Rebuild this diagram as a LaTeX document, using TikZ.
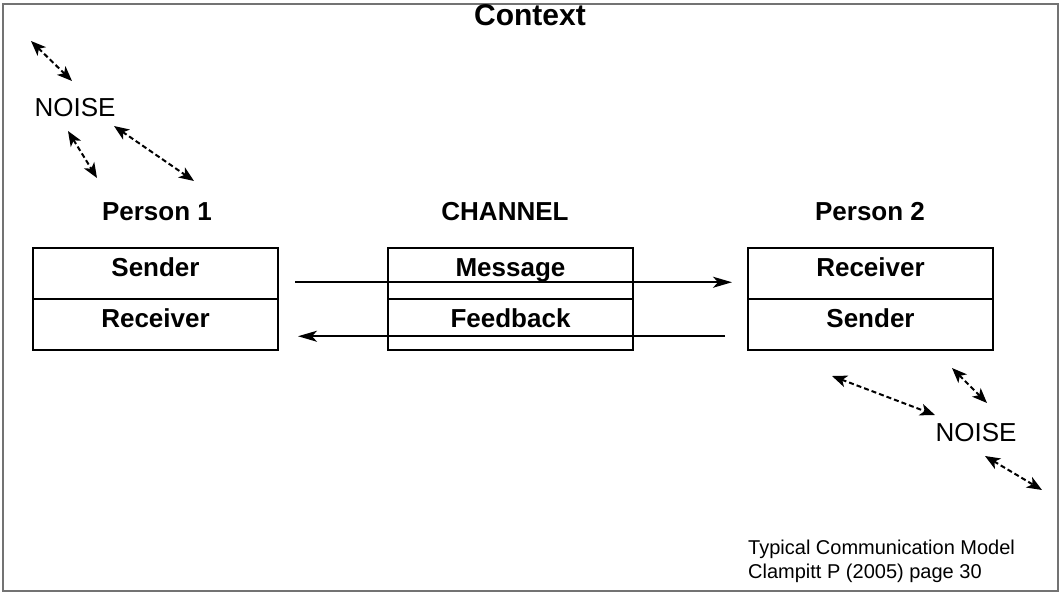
\documentclass[tikz,border=0pt]{standalone}
\usepackage{fontspec}
\setmainfont{Liberation Sans}
\usetikzlibrary{arrows.meta, positioning}

\begin{document}
\begin{tikzpicture}[
    x=1pt, y=-1pt,
    cell/.style={draw, line width=2pt, minimum width=245pt, minimum height=51pt, inner sep=0pt, outer sep=0pt, text height=19pt, text depth=14pt, font=\fontsize{26}{30}\selectfont\bfseries},
    heading/.style={font=\fontsize{26}{30}\selectfont\bfseries},
    noise/.style={font=\fontsize{26}{30}\selectfont},
    flow/.style={-{Stealth[length=19pt, width=11pt, inset=5pt]}, line width=2pt},
    noisearrow/.style={{Stealth[length=15pt, width=12pt, inset=4pt]}-{Stealth[length=15pt, width=12pt, inset=4pt]}, line width=2pt, dash pattern=on 5pt off 3pt}
]
\useasboundingbox (0,0) rectangle (1061,594);

% Frame
\draw[black!55, line width=2pt] (3,4) rectangle (1058,591);
\node (context) [font=\fontsize{30}{34}\selectfont\bfseries] at (530,15) {Context};

% Person 1
\node (p1sender) [cell] at (155.5,273.75) {Sender};
\node (p1receiver) [cell, below=0pt of p1sender] {Receiver};
\node (person1) [heading] at (157,212) {Person 1};

% Channel
\node (chmsg) [cell] at (510.5,273.75) {Message};
\node (chfb) [cell, below=0pt of chmsg] {Feedback};
\node (channel) [heading] at (505,212) {CHANNEL};

% Person 2
\node (p2receiver) [cell] at (870.5,273.75) {Receiver};
\node (p2sender) [cell, below=0pt of p2receiver] {Sender};
\node (person2) [heading] at (870,212) {Person 2};

% Arrows
\draw [flow, shorten <=17pt, shorten >=16pt] ([yshift=-8.5pt]p1sender.east) -- ([yshift=-8.5pt]p2receiver.west);
\draw [flow, shorten <=23pt, shorten >=20pt] ([yshift=-11.5pt]p2sender.west) -- ([yshift=-11.5pt]p1receiver.east);

% Noise (left)
\node (noise1) [noise] at (75,108) {NOISE};
\coordinate (n1a) at (31,41);   \coordinate (n1b) at (72,81);
\coordinate (n1c) at (68,131);  \coordinate (n1d) at (97,178);
\coordinate (n1e) at (114,126); \coordinate (n1f) at (194,181);
\draw [noisearrow] (n1a) -- (n1b);
\draw [noisearrow] (n1c) -- (n1d);
\draw [noisearrow] (n1e) -- (n1f);

% Noise (right)
\node (noise2) [noise] at (976,433) {NOISE};
\coordinate (n2a) at (832,376); \coordinate (n2b) at (935,415);
\coordinate (n2c) at (952,368); \coordinate (n2d) at (987,403);
\coordinate (n2e) at (985,456); \coordinate (n2f) at (1042,490);
\draw [noisearrow] (n2a) -- (n2b);
\draw [noisearrow] (n2c) -- (n2d);
\draw [noisearrow] (n2e) -- (n2f);

% Source
\node (source) [anchor=north west, inner sep=0pt, align=left, font=\fontsize{20}{24}\selectfont] at (748,540) {Typical Communication Model\\Clampitt P (2005) page 30};

\end{tikzpicture}
\end{document}
